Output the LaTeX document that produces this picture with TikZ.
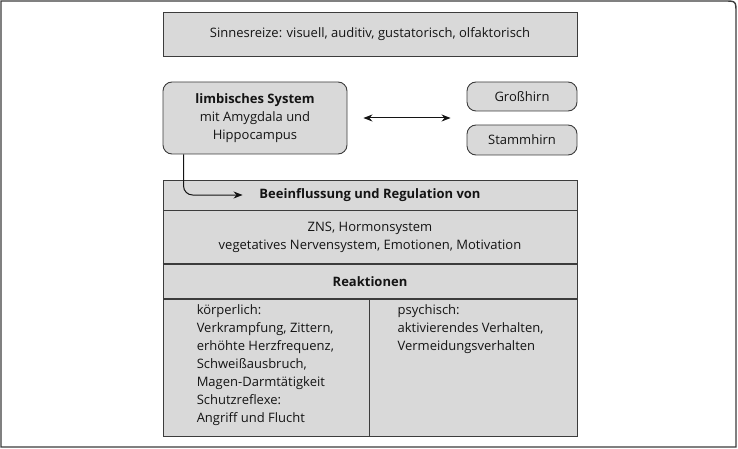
\documentclass[tikz,border=0pt]{standalone}
\usepackage{fontspec}
\setmainfont{Open Sans}
\usepackage{xcolor}
\usetikzlibrary{positioning, arrows.meta, calc}
\definecolor{boxgrey}{HTML}{D9D9D9}
\definecolor{edgegrey}{HTML}{3C3C3C}
\definecolor{inkgrey}{HTML}{141414}

\begin{document}
\begin{tikzpicture}[
  x=1pt, y=-1pt,
  every node/.style={text=inkgrey, font=\fontsize{13}{18}\selectfont},
  arr/.style={-{Stealth[length=9pt, width=7pt]}, line width=1pt, draw=inkgrey},
  darr/.style={{Stealth[length=9pt, width=7pt]}-{Stealth[length=9pt, width=7pt]}, line width=1pt, draw=inkgrey},
  bar/.style={
    rectangle, draw=edgegrey, fill=boxgrey, line width=0.9pt,
    minimum width=414, align=center, inner sep=0pt
  },
  brainbox/.style={
    rectangle, rounded corners=9pt, draw=edgegrey, fill=boxgrey,
    line width=0.9pt, align=center, inner sep=0pt
  },
  colbox/.style={
    rectangle, draw=edgegrey, fill=boxgrey, line width=0.9pt,
    minimum height=137, inner sep=0pt
  },
  coltext/.style={align=left, anchor=north west, inner sep=0pt}
]
\useasboundingbox (0,0) rectangle (738,449);

%% outer frame, only the top right corner is rounded
\draw[edgegrey, line width=1.4pt]
  (1,447) -- (1,1) -- (724,1) .. controls (736,1) .. (736,13) -- (736,447) -- cycle;

%% ─── TOP: STIMULI ───────────────────────────────────────────────────────────
\node[bar, minimum height=44] (sinne) at (370,34)
  {Sinnesreize: visuell, auditiv, gustatorisch, olfaktorisch};

%% ─── MIDDLE: BRAIN PARTS ────────────────────────────────────────────────────
\node[brainbox, minimum width=184, minimum height=72] (limbic) at (255,118)
  {\textbf{limbisches System}\\mit Amygdala und\\Hippocampus};

\node[brainbox, minimum width=110, minimum height=29] (gross) at (522,96.5)
  {Großhirn};
\node[brainbox, minimum width=110, minimum height=30] (stamm) at (522,140)
  {Stammhirn};

\draw[darr] ([xshift=16]limbic.east) -- ([xshift=-16]gross.west |- limbic.east);

%% ─── LOWER BLOCK: REGULATION AND REACTIONS ──────────────────────────────────
\node[bar, minimum height=30] (beein) at (370,195)
  {\textbf{Beeinflussung und Regulation von}};
\node[bar, minimum height=53, anchor=north] (zns) at (beein.south)
  {ZNS, Hormonsystem\\vegetatives Nervensystem, Emotionen, Motivation};
\node[bar, minimum height=34, anchor=north] (reakt) at (zns.south)
  {\textbf{Reaktionen}};

\node[colbox, minimum width=206, anchor=north west] (koerp) at (reakt.south west) {};
\node[colbox, minimum width=208, anchor=north west] (psych) at (koerp.north east) {};

%% heavier rule between regulation and reactions
\draw[edgegrey, line width=2pt] (zns.south west) -- (zns.south east);

\node[coltext] (koerptxt) at ([xshift=34, yshift=-5]koerp.north west)
  {körperlich:\\Verkrampfung, Zittern,\\erhöhte Herzfrequenz,\\Schweißausbruch,\\Magen-Darmtätigkeit\\Schutzreflexe:\\Angriff und Flucht};
\node[coltext] (psychtxt) at ([xshift=28, yshift=-5]psych.north west)
  {psychisch:\\aktivierendes Verhalten,\\Vermeidungsverhalten};

%% limbic system acts on the regulation block
\draw[arr, rounded corners=9pt]
  ([xshift=21]limbic.south west) |- ([xshift=80]beein.west);

\end{tikzpicture}
\end{document}
